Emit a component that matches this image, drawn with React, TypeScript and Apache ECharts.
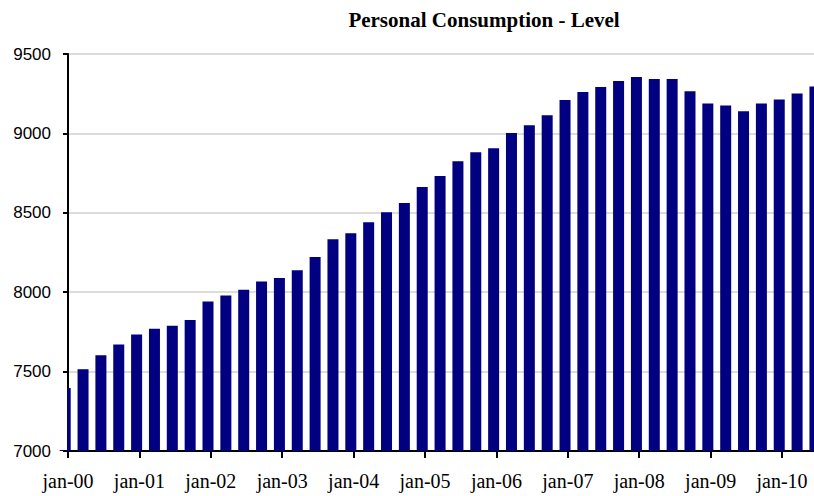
import React, { useEffect, useRef } from "react";
import * as echarts from "echarts";

const titleText = "Personal Consumption - Level";
// quarterly values, Q1 2000 .. Q3 2010
const quarters = [
  "2000Q1", "2000Q2", "2000Q3", "2000Q4",
  "2001Q1", "2001Q2", "2001Q3", "2001Q4",
  "2002Q1", "2002Q2", "2002Q3", "2002Q4",
  "2003Q1", "2003Q2", "2003Q3", "2003Q4",
  "2004Q1", "2004Q2", "2004Q3", "2004Q4",
  "2005Q1", "2005Q2", "2005Q3", "2005Q4",
  "2006Q1", "2006Q2", "2006Q3", "2006Q4",
  "2007Q1", "2007Q2", "2007Q3", "2007Q4",
  "2008Q1", "2008Q2", "2008Q3", "2008Q4",
  "2009Q1", "2009Q2", "2009Q3", "2009Q4",
  "2010Q1", "2010Q2", "2010Q3",
];
const consumption = [
  7397, 7515, 7603, 7671,
  7733, 7770, 7788, 7825,
  7942, 7979, 8016, 8068,
  8089, 8139, 8221, 8334,
  8372, 8441, 8504, 8561,
  8662, 8731, 8825, 8882,
  8907, 9002, 9052, 9115,
  9210, 9260, 9292, 9330,
  9355, 9342, 9342, 9265,
  9189, 9176, 9139, 9189,
  9214, 9252, 9296,
];
const xTickLabels = [
  "jan-00", "jan-01", "jan-02", "jan-03", "jan-04", "jan-05",
  "jan-06", "jan-07", "jan-08", "jan-09", "jan-10",
];
const yMin = 7000;
const yMax = 9500;
const yStep = 500;

export default function App() {
  const ref = useRef<HTMLDivElement>(null);
  useEffect(() => {
    if (!ref.current) return;
    const chart = echarts.init(ref.current, null, { renderer: "svg" });
    const data = consumption.map((v, i) => [i, v]);
    chart.setOption({
      animation: false,
      backgroundColor: "#ffffff",
      graphic: [
        {
          type: "text",
          x: 484,
          y: 20,
          style: {
            text: titleText,
            fontFamily: "Liberation Serif",
            fontWeight: "bold",
            fontSize: 21,
            fill: "#000",
            textAlign: "center",
            textVerticalAlign: "middle",
          },
        },
        {
          // mask the part of the first bar that lies left of the y axis
          type: "rect",
          z: 100,
          shape: { x: 50, y: 380, width: 17, height: 70 },
          style: { fill: "#ffffff" },
        },
      ],
      grid: { left: 68, right: 0, top: 54, bottom: 45, containLabel: false },
      xAxis: [
        {
          type: "value",
          min: 0,
          max: 41.79,
          interval: 4,
          axisLine: { show: true, lineStyle: { color: "#000", width: 2 } },
          axisTick: { show: true, length: 7, lineStyle: { color: "#000", width: 2 } },
          splitLine: { show: false },
          axisLabel: {
            margin: 20,
            fontFamily: "Liberation Serif",
            fontSize: 20,
            color: "#000",
            formatter: (v: number) => xTickLabels[Math.round(v / 4)] ?? "",
          },
        },
        {
          type: "value",
          show: false,
          min: 0.157,
          max: 41.947,
          splitLine: { show: false },
        },
      ],
      yAxis: {
        type: "value",
        min: yMin,
        max: yMax,
        interval: yStep,
        axisLine: { show: true, lineStyle: { color: "#000", width: 2 } },
        axisTick: { show: true, length: 5, lineStyle: { color: "#000", width: 2 } },
        splitLine: { show: true, lineStyle: { color: "#dcdcdc", width: 2 } },
        axisLabel: {
          margin: 17,
          fontFamily: "Liberation Sans",
          fontSize: 17,
          color: "#000",
          formatter: (v: number) => String(v),
        },
      },
      series: [
        {
          type: "bar",
          name: "Personal Consumption",
          xAxisIndex: 1,
          data,
          barWidth: 11,
          clip: true,
          itemStyle: { color: "#000080" },
        },
      ],
    });
    return () => chart.dispose();
  }, []);
  return (
    <div
      ref={ref}
      style={{ position: "fixed", left: 0, top: 0, width: 814, height: 496 }}
    />
  );
}
